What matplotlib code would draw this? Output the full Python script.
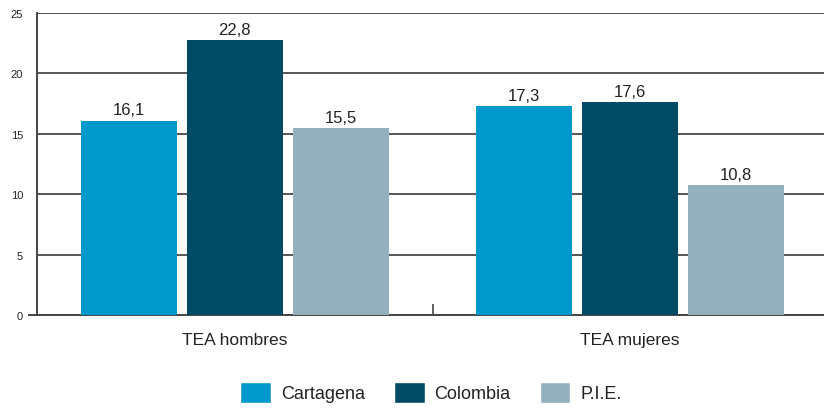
import numpy as np
import matplotlib.pyplot as plt
from matplotlib.patches import Patch

categories = ["TEA hombres", "TEA mujeres"]
series = ["Cartagena", "Colombia", "P.I.E."]
cartagena = [16.1, 17.3]
colombia = [22.8, 17.6]
pie = [15.5, 10.8]
colors = ["#0099cc", "#004b63", "#94b0be"]

plt.rcParams['font.family'] = ['Liberation Sans', 'DejaVu Sans']

fig = plt.figure(figsize=(8.24, 4.10), dpi=100)
ax = fig.add_axes([37 / 824, 1 - 316 / 410, 791 / 824, 302 / 410])

x = np.arange(len(categories))
w = 0.243
off = 0.268
for i, (vals, c) in enumerate(zip([cartagena, colombia, pie], colors)):
    bars = ax.bar(x + (i - 1) * off, vals, w, color=c, zorder=3)
    for b, v in zip(bars, vals):
        ax.text(b.get_x() + b.get_width() / 2, v + 0.25, f"{v:.1f}".replace(".", ","),
                ha='center', va='bottom', fontsize=12, color='#222222')

ax.set_xlim(-0.5, 1.5)
ax.set_ylim(0, 25)
ax.set_yticks([0, 5, 10, 15, 20, 25])
ax.yaxis.grid(True, color='#555555', linewidth=1.4, zorder=0)
ax.tick_params(axis='y', length=0, labelsize=8, pad=10, colors='#222222')
ax.set_xticks(x)
ax.set_xticklabels(categories, fontsize=12.5, color='#222222')
ax.tick_params(axis='x', length=0, pad=12)
ax.set_xticks([0.5], minor=True)
ax.tick_params(axis='x', which='minor', direction='in', length=8, width=1.2, color='#444444')

for s in ['top', 'right']:
    ax.spines[s].set_visible(False)
ax.spines['left'].set_color('#444444')
ax.spines['left'].set_linewidth(1.4)
ax.spines['bottom'].set_color('#444444')
ax.spines['bottom'].set_linewidth(1.4)
ax.plot([-8 / 791, 0], [0, 0], transform=ax.transAxes, color='#444444',
        linewidth=1.4, clip_on=False)

handles = [Patch(facecolor=c, edgecolor='white') for c in colors]
fig.legend(handles, series, loc='lower center', bbox_to_anchor=(0.523, -0.025), ncol=3,
           frameon=False, fontsize=13, handlelength=1.7, handleheight=1.45,
           columnspacing=1.6, handletextpad=0.55, labelcolor='#222222')

fig.savefig("out.png", dpi=100)
